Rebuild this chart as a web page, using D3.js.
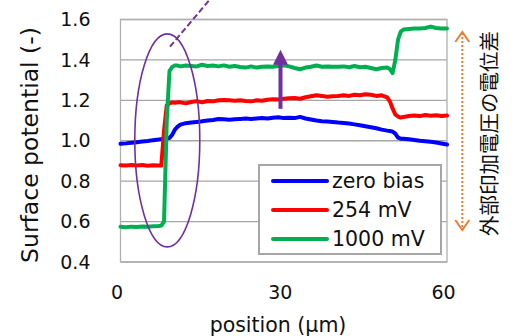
<!DOCTYPE html>
<html><head><meta charset="utf-8">
<script src="https://cdn.jsdelivr.net/npm/d3@7"></script>
<style>
html,body{margin:0;padding:0;background:#fff;}
svg{display:block;font-family:"DejaVu Sans",Verdana,sans-serif;}
</style></head>
<body><svg id="c" width="515" height="336"></svg>
<script>
// ---- data ----
const positions = [0,1,2,3,4,5,6,7,7.5,8,8.5,9,9.5,10,10.5,11,12,13,14,15,16,17,18,19,20,21,22,23,24,25,26,27,28,29,30,31,32,33,34,35,36,37,38,39,40,41,42,43,44,45,46,47,48,49,49.5,50,50.5,51,51.5,52,53,54,55,56,57,58,59,60];
const zeroBias = [0.985,0.987,0.990,0.993,0.996,0.999,1.003,1.006,1.008,1.010,1.012,1.014,1.030,1.055,1.070,1.080,1.087,1.090,1.093,1.096,1.100,1.103,1.108,1.106,1.104,1.106,1.108,1.110,1.108,1.110,1.112,1.110,1.114,1.116,1.112,1.114,1.112,1.118,1.110,1.105,1.100,1.097,1.095,1.093,1.090,1.088,1.085,1.081,1.077,1.072,1.067,1.062,1.055,1.050,1.048,1.045,1.035,1.015,1.010,1.010,1.007,1.004,1.000,0.998,0.995,0.991,0.986,0.981];
const mv254 = [0.879,0.877,0.880,0.878,0.880,0.876,0.879,0.878,0.877,1.050,1.175,1.185,1.190,1.188,1.190,1.190,1.185,1.192,1.196,1.190,1.197,1.195,1.200,1.202,1.200,1.198,1.200,1.197,1.195,1.200,1.198,1.203,1.205,1.204,1.208,1.210,1.212,1.208,1.215,1.220,1.225,1.222,1.218,1.220,1.222,1.225,1.222,1.228,1.225,1.230,1.228,1.222,1.225,1.215,1.195,1.160,1.130,1.120,1.115,1.118,1.122,1.125,1.122,1.127,1.124,1.126,1.122,1.125];
const mv1000 = [0.574,0.572,0.575,0.573,0.576,0.574,0.577,0.578,0.580,0.600,1.100,1.345,1.365,1.373,1.372,1.368,1.372,1.370,1.368,1.376,1.370,1.372,1.368,1.373,1.366,1.370,1.365,1.362,1.368,1.362,1.366,1.368,1.366,1.370,1.373,1.368,1.360,1.354,1.362,1.366,1.372,1.366,1.368,1.366,1.366,1.368,1.364,1.370,1.364,1.366,1.360,1.354,1.360,1.362,1.355,1.335,1.400,1.500,1.540,1.550,1.553,1.556,1.555,1.558,1.565,1.558,1.556,1.556];
const seriesNames = ["zero bias","254 mV","1000 mV"];
const seriesColors = ["#0000ff","#ff0000","#00b050"];
const xTicks = [0,30,60];
const yTicks = [0.4,0.6,0.8,1.0,1.2,1.4,1.6];
const xTitle = "position (μm)";
const yTitle = "Surface potential (-)";
const sideNote = "外部印加電圧の電位差";

// ---- layout ----
const svg = d3.select("#c");
const L = 120.5, R = 447, T = 19.5, B = 262;
const x = d3.scaleLinear().domain([0,60]).range([L,R]);
const y = d3.scaleLinear().domain([0.4,1.6]).range([B,T]);

// gridlines
svg.append("g").selectAll("line").data(yTicks).join("line")
  .attr("x1",L).attr("x2",R).attr("y1",d=>y(d)).attr("y2",d=>y(d))
  .attr("stroke","#a6a6a6").attr("stroke-width",1.3);
// plot border
svg.append("rect").attr("x",L).attr("y",T).attr("width",R-L).attr("height",B-T)
  .attr("fill","none").attr("stroke","#b0b0b0").attr("stroke-width",1.3);

// y tick labels
const yAxis = d3.axisLeft(y).tickValues(yTicks).tickFormat(d3.format(".1f")).tickSize(0).tickPadding(30);
const gy = svg.append("g").attr("transform",`translate(${L},0)`).call(yAxis);
gy.select(".domain").remove();
gy.selectAll("text").attr("font-size",19).attr("fill","#111").attr("font-family","DejaVu Sans");

// x tick labels
const xAxis = d3.axisBottom(x).tickValues(xTicks).tickFormat(d3.format("d")).tickSize(0).tickPadding(24);
const gx = svg.append("g").attr("transform",`translate(0,${B})`).call(xAxis);
gx.select(".domain").remove();
gx.selectAll("text").attr("font-size",19).attr("fill","#111").attr("dx",-4).attr("font-family","DejaVu Sans");

// lines
const allSeries = [zeroBias, mv254, mv1000];
const line = d3.line().x((d,i)=>x(positions[i])).y(d=>y(d));
svg.append("g").selectAll("path").data(allSeries).join("path")
  .attr("d",line).attr("fill","none")
  .attr("stroke",(d,i)=>seriesColors[i]).attr("stroke-width",4)
  .attr("stroke-linejoin","round").attr("stroke-linecap","round");

// legend
const lg = svg.append("g");
lg.append("rect").attr("x",259).attr("y",165).attr("width",182).attr("height",89)
  .attr("fill","#fff").attr("stroke","#a6a6a6").attr("stroke-width",2);
seriesNames.forEach((n,i)=>{
  const yy = 181 + i*29;
  lg.append("line").attr("x1",273).attr("x2",327).attr("y1",yy).attr("y2",yy)
    .attr("stroke",seriesColors[i]).attr("stroke-width",4).attr("stroke-linecap","round");
  lg.append("text").attr("x",332).attr("y",yy).attr("dy","0.36em")
    .attr("font-size",20.5).attr("fill","#111").text(n);
});

// axis titles
svg.append("text").attr("x",278).attr("y",332).attr("text-anchor","middle")
  .attr("font-size",20.5).attr("fill","#111").text(xTitle);
svg.append("text").attr("transform","translate(37.5,145) rotate(-90)").attr("text-anchor","middle")
  .attr("font-size",23.5).attr("fill","#111").text(yTitle);

// annotations
const purple = "#7030a0";
svg.append("ellipse").attr("cx",x(8.6)).attr("cy",y(1.002)).attr("rx",32.5).attr("ry",106.5)
  .attr("fill","none").attr("stroke",purple).attr("stroke-width",1.6);
svg.append("line").attr("x1",170).attr("y1",46.7).attr("x2",170+(46.7+2)*26.7/31.7).attr("y2",-2)
  .attr("stroke",purple).attr("stroke-width",2).attr("stroke-dasharray","6,3");
// purple arrow
const ax = x(29.4), ay0 = y(1.158), ayTip = y(1.45);
svg.append("line").attr("x1",ax).attr("x2",ax).attr("y1",ay0).attr("y2",ayTip+14)
  .attr("stroke",purple).attr("stroke-width",4);
svg.append("path").attr("d",`M${ax},${ayTip} L${ax+7.5},${ayTip+15} L${ax-7.5},${ayTip+15} Z`).attr("fill",purple);

// orange double arrow
const ox = 462.3, oTop = 32, oBot = 230;
const orange = "#ed7d31";
svg.append("line").attr("x1",ox).attr("x2",ox).attr("y1",oTop+1).attr("y2",oBot-1)
  .attr("stroke",orange).attr("stroke-width",2).attr("stroke-dasharray","2,2");
svg.append("path").attr("d",`M${ox-7},${oTop+10} L${ox},${oTop} L${ox+7},${oTop+10}`)
  .attr("fill","none").attr("stroke",orange).attr("stroke-width",2);
svg.append("path").attr("d",`M${ox-7},${oBot-10} L${ox},${oBot} L${ox+7},${oBot-10}`)
  .attr("fill","none").attr("stroke",orange).attr("stroke-width",2);

svg.append("text").attr("transform","translate(490,133.5) rotate(-90)").attr("text-anchor","middle")
  .attr("dy","0.36em").attr("font-size",20.5).attr("fill","#111")
  .attr("font-family","'Noto Sans CJK JP',sans-serif").text(sideNote);
</script></body></html>
